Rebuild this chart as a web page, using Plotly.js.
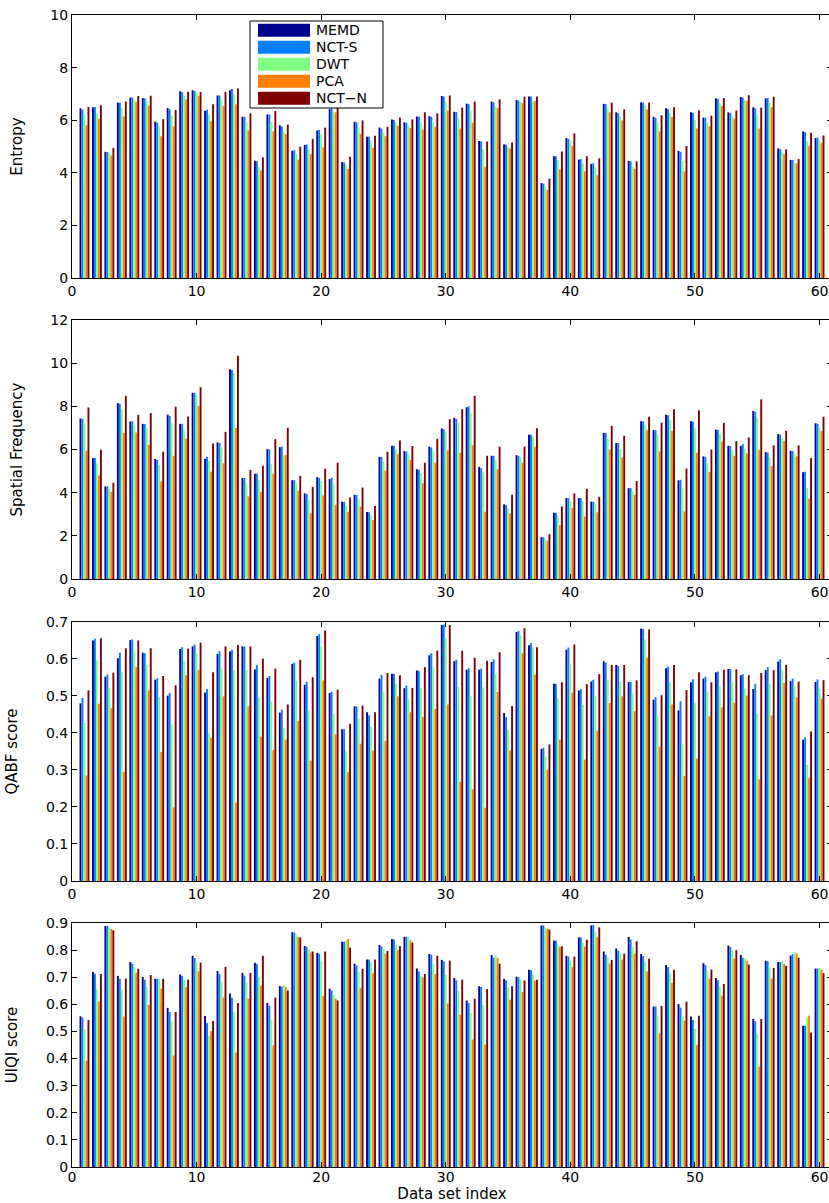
<!DOCTYPE html>
<html>
<head>
<meta charset="utf-8">
<script src="https://cdn.plot.ly/plotly-3.0.1.min.js"></script>
<style>
html,body{margin:0;padding:0;overflow:hidden;background:#fff;}
#chart{width:832px;height:1203px;}
</style>
</head>
<body>
<div id="chart"></div>
<script>
// ---- data ----
const methods = ["MEMD", "NCT-S", "DWT", "PCA", "NCT\u2212N"];
const methodColors = ["#00008F", "#0080FF", "#80FF80", "#FF8000", "#800000"];
const panelTitles = ["Entropy", "Spatial Frequency", "QABF score", "UIQI score"];
const xTickVals = [0, 10, 20, 30, 40, 50, 60];

const entropy_MEMD = [6.45,6.49,4.80,6.67,6.86,6.84,5.95,6.46,7.10,7.14, 6.36,6.94,7.14,6.13,4.46,6.22,5.81,4.84,5.06,5.61, 6.42,4.41,5.94,5.37,5.72,6.03,5.92,6.14,6.15,6.92, 6.32,6.63,5.21,6.71,5.08,6.77,6.90,3.61,4.63,5.32, 4.50,4.34,6.62,6.30,4.45,6.68,6.13,6.45,4.83,6.30, 6.10,6.83,6.30,6.88,6.49,6.83,4.93,4.49,5.57,5.32];
const entropy_NCTS = [6.41,6.50,4.79,6.66,6.86,6.83,5.91,6.41,7.07,7.11, 6.40,6.94,7.19,6.13,4.44,6.22,5.77,4.86,5.08,5.63, 6.45,4.39,5.92,5.37,5.68,6.01,5.90,6.13,6.13,6.90, 6.31,6.61,5.20,6.68,5.07,6.75,6.90,3.59,4.63,5.29, 4.52,4.36,6.61,6.27,4.44,6.67,6.09,6.43,4.80,6.27, 6.09,6.81,6.27,6.86,6.45,6.84,4.90,4.49,5.55,5.34];
const entropy_DWT = [6.22,6.26,4.75,6.45,6.76,6.72,5.77,6.18,6.93,7.05, 6.22,6.80,6.99,5.92,4.21,5.94,5.57,4.71,4.90,5.45, 6.32,4.31,5.70,5.20,5.52,5.91,5.79,5.92,5.92,6.71, 6.09,6.36,4.90,6.53,4.99,6.71,6.72,3.48,4.48,5.23, 4.36,4.22,6.45,6.14,4.23,6.55,5.91,6.28,4.45,6.03, 5.91,6.66,6.14,6.76,6.19,6.66,4.79,4.39,5.21,5.23];
const entropy_PCA = [5.80,6.06,4.66,6.14,6.70,6.55,5.39,5.77,6.79,6.93, 5.96,6.54,6.61,5.61,4.09,5.57,5.48,4.50,4.71,4.97, 6.30,4.15,5.48,4.95,5.39,5.79,5.70,5.64,5.75,6.37, 5.68,5.91,4.23,6.46,4.93,6.65,6.72,3.35,4.13,5.03, 4.06,3.90,6.30,5.99,4.15,6.41,5.57,6.12,4.05,5.68, 5.77,6.54,6.06,6.74,5.68,6.50,4.71,4.36,5.03,5.14];
const entropy_NCTN = [6.50,6.57,4.94,6.71,6.92,6.93,6.04,6.39,7.08,7.07, 6.61,7.08,7.21,6.26,4.59,6.35,5.83,4.99,5.29,5.72, 6.55,4.61,5.99,5.41,5.75,6.10,6.03,6.30,6.26,6.94, 6.48,6.71,5.19,6.79,5.15,6.90,6.90,3.78,4.81,5.50, 4.63,4.55,6.67,6.41,4.44,6.67,6.19,6.49,5.02,6.37, 6.17,6.84,6.37,6.95,6.48,6.89,4.89,4.52,5.52,5.42];

const sf_MEMD = [7.44,5.60,4.29,8.15,7.30,7.19,5.56,7.62,7.19,8.63, 5.57,6.33,9.72,4.68,4.88,6.02,6.11,4.58,3.97,4.72, 4.63,3.58,3.90,3.10,5.66,6.17,5.93,5.09,6.13,6.98, 7.47,7.96,5.20,5.71,3.46,5.74,6.68,1.94,3.07,3.75, 3.75,3.58,6.77,6.30,4.21,7.31,6.91,7.61,4.57,7.31, 5.68,6.93,6.17,6.17,7.79,5.88,6.71,5.94,4.95,7.22];
const sf_NCTS = [7.42,5.62,4.29,8.12,7.31,7.18,5.52,7.56,7.19,8.63, 5.65,6.31,9.69,4.68,4.88,6.00,6.14,4.58,3.95,4.69, 4.69,3.58,3.90,3.09,5.65,6.17,5.91,5.06,6.10,6.94, 7.42,8.00,5.14,5.71,3.43,5.71,6.68,1.93,3.07,3.75, 3.75,3.58,6.77,6.30,4.21,7.31,6.90,7.59,4.60,7.30, 5.66,6.91,6.17,6.25,7.75,5.86,6.70,5.93,4.97,7.19];
const sf_DWT = [7.22,5.37,4.18,7.89,7.15,6.99,5.29,7.24,6.87,8.52, 5.48,6.10,9.55,4.44,4.58,5.31,5.73,4.46,3.67,4.54, 4.44,3.40,3.72,2.95,5.45,6.02,5.76,4.91,5.94,6.85, 7.21,7.70,4.94,5.52,3.27,5.65,6.60,1.85,2.90,3.61, 3.61,3.49,6.50,6.02,4.06,7.15,6.68,7.39,4.23,6.99, 5.37,6.73,5.97,6.03,7.47,5.66,6.54,5.80,4.23,7.02];
const sf_PCA = [5.94,4.80,4.04,6.77,6.79,6.22,4.52,5.71,6.51,8.02, 4.97,5.37,7.00,3.83,4.04,4.88,5.76,4.09,3.04,3.87, 3.44,3.12,3.35,2.73,5.02,5.80,5.52,4.44,5.39,5.96, 5.85,6.20,3.12,5.08,3.04,5.39,6.13,1.76,2.50,3.30, 2.90,3.09,6.00,5.63,3.90,6.91,5.91,6.87,3.13,5.85, 4.97,6.37,5.71,5.82,5.99,5.23,6.40,5.68,3.72,6.87];
const sf_NCTN = [7.95,5.99,4.46,8.49,7.61,7.69,5.90,7.99,7.53,8.89, 6.28,6.82,10.34,5.06,5.25,6.48,7.01,4.78,4.27,5.11, 5.39,3.78,4.24,3.38,5.90,6.42,6.16,5.39,6.50,7.41, 7.87,8.49,5.71,6.13,3.90,6.13,6.99,2.08,3.36,3.97, 4.18,3.81,7.10,6.64,4.54,7.52,7.24,7.87,5.12,7.82, 6.00,7.24,6.39,6.56,8.33,6.19,6.87,6.19,5.60,7.52];

const qabf_MEMD = [0.480,0.650,0.552,0.602,0.651,0.617,0.544,0.501,0.627,0.634, 0.509,0.614,0.620,0.634,0.572,0.549,0.455,0.587,0.530,0.662, 0.508,0.410,0.472,0.456,0.547,0.560,0.521,0.569,0.610,0.692, 0.594,0.571,0.571,0.592,0.454,0.673,0.637,0.357,0.533,0.625, 0.515,0.539,0.594,0.584,0.538,0.682,0.490,0.575,0.461,0.537, 0.547,0.564,0.573,0.556,0.519,0.570,0.593,0.540,0.382,0.538];
const qabf_NCTS = [0.495,0.655,0.558,0.617,0.653,0.616,0.548,0.508,0.632,0.639, 0.519,0.621,0.625,0.634,0.584,0.554,0.463,0.590,0.539,0.667, 0.511,0.410,0.472,0.448,0.557,0.560,0.528,0.568,0.616,0.693, 0.598,0.575,0.574,0.599,0.443,0.676,0.643,0.360,0.533,0.631, 0.518,0.544,0.590,0.581,0.538,0.681,0.497,0.580,0.486,0.545, 0.552,0.566,0.573,0.559,0.533,0.578,0.599,0.547,0.388,0.545];
const qabf_DWT = [0.427,0.596,0.522,0.565,0.623,0.584,0.497,0.423,0.594,0.616, 0.400,0.575,0.569,0.570,0.495,0.485,0.414,0.542,0.461,0.633, 0.453,0.350,0.439,0.417,0.510,0.534,0.493,0.521,0.578,0.657, 0.524,0.500,0.523,0.561,0.409,0.664,0.632,0.336,0.493,0.587, 0.476,0.500,0.544,0.539,0.507,0.653,0.448,0.538,0.371,0.481, 0.512,0.526,0.537,0.520,0.453,0.531,0.570,0.525,0.314,0.519];
const qabf_PCA = [0.285,0.479,0.467,0.295,0.578,0.515,0.349,0.199,0.556,0.570, 0.387,0.499,0.212,0.472,0.390,0.354,0.382,0.433,0.325,0.542, 0.397,0.294,0.371,0.352,0.379,0.499,0.456,0.443,0.465,0.477, 0.268,0.248,0.198,0.511,0.353,0.615,0.558,0.301,0.382,0.509, 0.328,0.406,0.481,0.499,0.459,0.603,0.363,0.477,0.284,0.331, 0.445,0.469,0.482,0.501,0.274,0.447,0.535,0.496,0.279,0.493];
const qabf_NCTN = [0.515,0.656,0.563,0.629,0.650,0.629,0.554,0.529,0.628,0.644, 0.564,0.634,0.638,0.634,0.601,0.574,0.477,0.598,0.551,0.677, 0.517,0.425,0.474,0.456,0.562,0.556,0.522,0.578,0.623,0.692, 0.622,0.603,0.595,0.618,0.473,0.683,0.632,0.369,0.537,0.639, 0.532,0.559,0.584,0.584,0.542,0.680,0.502,0.584,0.516,0.564, 0.537,0.571,0.572,0.556,0.562,0.570,0.584,0.539,0.404,0.543];

const uiqi_MEMD = [0.556,0.720,0.889,0.705,0.756,0.701,0.694,0.587,0.710,0.779, 0.557,0.723,0.640,0.716,0.753,0.605,0.668,0.866,0.815,0.790, 0.658,0.831,0.750,0.765,0.819,0.841,0.849,0.732,0.786,0.764, 0.697,0.614,0.667,0.782,0.694,0.702,0.728,0.891,0.835,0.779, 0.847,0.891,0.795,0.806,0.849,0.786,0.592,0.745,0.601,0.555, 0.752,0.697,0.817,0.782,0.546,0.761,0.756,0.780,0.521,0.732];
const uiqi_NCTS = [0.551,0.713,0.889,0.694,0.749,0.691,0.694,0.572,0.705,0.771, 0.531,0.712,0.624,0.706,0.749,0.595,0.665,0.865,0.811,0.787, 0.651,0.831,0.743,0.765,0.814,0.839,0.849,0.721,0.783,0.758, 0.689,0.605,0.664,0.772,0.689,0.700,0.726,0.891,0.835,0.776, 0.847,0.893,0.783,0.798,0.839,0.779,0.592,0.738,0.588,0.542, 0.745,0.689,0.811,0.772,0.538,0.759,0.756,0.785,0.521,0.732];
const uiqi_DWT = [0.509,0.658,0.882,0.654,0.738,0.664,0.694,0.539,0.691,0.756, 0.482,0.684,0.573,0.680,0.701,0.544,0.672,0.857,0.804,0.761, 0.636,0.835,0.721,0.756,0.804,0.820,0.845,0.706,0.750,0.708, 0.649,0.568,0.598,0.780,0.663,0.692,0.713,0.882,0.820,0.761, 0.827,0.868,0.775,0.787,0.811,0.756,0.556,0.717,0.555,0.510, 0.724,0.665,0.798,0.770,0.492,0.736,0.760,0.793,0.551,0.734];
const uiqi_PCA = [0.392,0.610,0.878,0.555,0.716,0.598,0.658,0.411,0.664,0.721, 0.502,0.625,0.422,0.621,0.669,0.448,0.664,0.849,0.792,0.630, 0.621,0.841,0.661,0.715,0.787,0.800,0.836,0.699,0.712,0.603, 0.562,0.470,0.451,0.772,0.617,0.645,0.688,0.879,0.812,0.737, 0.813,0.847,0.750,0.766,0.787,0.721,0.493,0.680,0.540,0.451, 0.694,0.632,0.769,0.761,0.370,0.695,0.749,0.787,0.558,0.728];
const uiqi_NCTN = [0.542,0.712,0.873,0.695,0.731,0.708,0.694,0.572,0.691,0.754, 0.539,0.738,0.605,0.716,0.779,0.625,0.651,0.847,0.795,0.795, 0.614,0.809,0.731,0.765,0.797,0.815,0.828,0.712,0.779,0.761, 0.691,0.621,0.656,0.750,0.667,0.688,0.691,0.876,0.814,0.776, 0.839,0.884,0.764,0.787,0.833,0.768,0.594,0.728,0.610,0.558, 0.728,0.675,0.800,0.747,0.546,0.734,0.742,0.772,0.496,0.715];

// ---- build ----
const panels = [
  [entropy_MEMD, entropy_NCTS, entropy_DWT, entropy_PCA, entropy_NCTN],
  [sf_MEMD, sf_NCTS, sf_DWT, sf_PCA, sf_NCTN],
  [qabf_MEMD, qabf_NCTS, qabf_DWT, qabf_PCA, qabf_NCTN],
  [uiqi_MEMD, uiqi_NCTS, uiqi_DWT, uiqi_PCA, uiqi_NCTN]
];
const yRanges = [[0,10],[0,12],[0,0.7],[0,0.9]];
const yDticks = [2,2,0.1,0.1];
const yDomains = [[0.7717,1.0],[0.5104,0.7352],[0.2483,0.4731],[0.0,0.2118]];

const FONT = "DejaVu Sans, Liberation Sans, Arial, sans-serif";
const traces = [];
panels.forEach((series, p) => {
  const sx = p === 0 ? "" : String(p + 1);
  series.forEach((vals, m) => {
    traces.push({
      type: "bar",
      name: methods[m],
      x: vals.map((_, i) => i + 1),
      y: vals,
      xaxis: "x" + sx,
      yaxis: "y" + sx,
      marker: {color: methodColors[m], line: {width: 0}},
      showlegend: false,
      hoverinfo: "x+y+name"
    });
  });
});

const layout = {
  width: 832, height: 1203,
  margin: {l: 72, r: 0, t: 15, b: 36},
  paper_bgcolor: "#fff", plot_bgcolor: "#fff",
  barmode: "group", bargap: 0.2, bargroupgap: 0.05,
  font: {family: FONT, size: 14, color: "#000"},
  showlegend: false,
  shapes: [], annotations: []
};

for (let p = 0; p < 4; p++) {
  const sx = p === 0 ? "" : String(p + 1);
  layout["xaxis" + sx] = {
    anchor: "y" + sx, domain: [0, 1], range: [0, 61],
    tickmode: "array", tickvals: xTickVals,
    ticks: "inside", ticklen: 5, tickcolor: "#000",
    showline: true, linecolor: "#000", linewidth: 1, mirror: "ticks",
    showgrid: false, zeroline: false,
    tickfont: {family: FONT, size: 14},
    ticklabelstandoff: p === 3 ? -3 : 0,
    title: p === 3 ? {text: "Data set index", font: {family: FONT, size: 15}, standoff: 0} : {text: ""}
  };
  layout["yaxis" + sx] = {
    anchor: "x" + sx, domain: yDomains[p], range: yRanges[p],
    dtick: yDticks[p], tick0: 0,
    ticks: "inside", ticklen: 5, tickcolor: "#000",
    showline: true, linecolor: "#000", linewidth: 1, mirror: "ticks",
    showgrid: false, zeroline: false,
    tickfont: {family: FONT, size: 14},
    title: {text: panelTitles[p], font: {family: FONT, size: 15}, standoff: 24}
  };
}

// custom legend (wide swatches like the reference)
const px2x = v => (v - 72) / 760;
const py2y = v => (1167 - v) / 1152;
layout.shapes.push({type: "rect", xref: "paper", yref: "paper",
  x0: px2x(250), x1: px2x(383), y0: py2y(108), y1: py2y(21),
  line: {color: "#000", width: 1}, fillcolor: "#fff", layer: "above"});
methods.forEach((m, i) => {
  const cy = 30.3 + 17 * i;
  layout.shapes.push({type: "rect", xref: "paper", yref: "paper",
    x0: px2x(258), x1: px2x(310), y0: py2y(cy + 6.5), y1: py2y(cy - 6.5),
    line: {width: 0}, fillcolor: methodColors[i], layer: "above"});
  layout.annotations.push({xref: "paper", yref: "paper", x: px2x(314), y: py2y(cy),
    xanchor: "left", yanchor: "middle", showarrow: false, text: m,
    font: {family: FONT, size: 14, color: "#000"}});
});

Plotly.newPlot("chart", traces, layout, {displayModeBar: false, staticPlot: true});
</script>
</body>
</html>
